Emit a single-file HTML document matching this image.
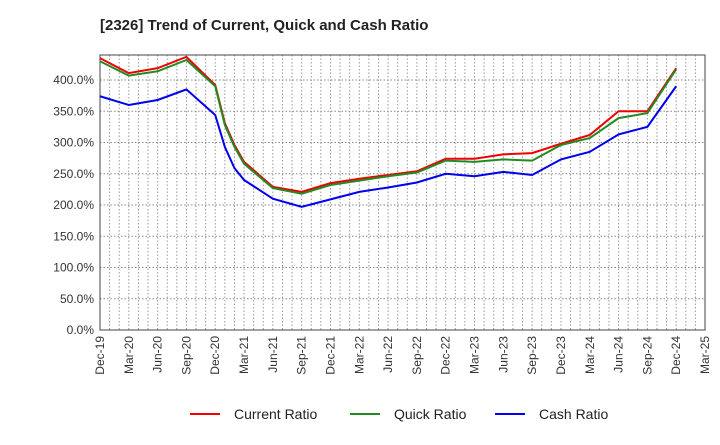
<!DOCTYPE html>
<html><head><meta charset="utf-8"><style>
body{margin:0;background:#fff;font-family:"Liberation Sans",sans-serif}
svg text{font-family:"Liberation Sans",sans-serif}
</style></head><body>
<svg id="chart" width="720" height="440">
<text x="100" y="30" font-size="15" font-weight="bold" fill="#222">[2326]  Trend of Current, Quick and Cash Ratio</text>
</svg>
<script>
const months=[0,3,6,9,12,13,14,15,18,21,24,27,30,33,36,39,42,45,48,51,54,57,60];
const currentRatio=[435,411,419,437,392,331,296,269,229,221,235,242,248,254,274,274,281,283,298,312,350,350,419];
const quickRatio=[430,407,414,432,390,328,293,266,227,218,232,239,246,252,271,269,273,271,296,307,339,347,417];
const cashRatio=[374,360,368,385,344,293,259,240,210,197,209,221,228,236,250,246,253,248,273,285,313,325,390];
const xTickLabels=["Dec-19","Mar-20","Jun-20","Sep-20","Dec-20","Mar-21","Jun-21","Sep-21","Dec-21","Mar-22","Jun-22","Sep-22","Dec-22","Mar-23","Jun-23","Sep-23","Dec-23","Mar-24","Jun-24","Sep-24","Dec-24","Mar-25"];
const yTicks=[0,50,100,150,200,250,300,350,400];
const NS="http://www.w3.org/2000/svg",svg=document.getElementById('chart');
const L=100,R=705,T=55,B=330;
const xs=m=>L+m*(R-L)/63, ys=v=>B-v*(B-T)/440;
function mk(t,a){const e=document.createElementNS(NS,t);for(const k in a)e.setAttribute(k,a[k]);svg.appendChild(e);return e;}
for(let m=1;m<63;m++){
const g=mk('line',{x1:xs(m),x2:xs(m),y1:T,y2:B,stroke:'#999','stroke-dasharray':'1.5,2','stroke-width':1});

}
yTicks.forEach(v=>{
if(v>0){const g=mk('line',{x1:L,x2:R,y1:ys(v),y2:ys(v),stroke:'#888','stroke-dasharray':'1.5,2','stroke-width':1});

}
const t=mk('text',{x:L-6,y:ys(v)+4,'font-size':12,'text-anchor':'end',fill:'#333'});
t.textContent=v.toFixed(1)+'%';

});
xTickLabels.forEach((s,i)=>{const x=xs(i*3),y=B+6;
const t=mk('text',{x:x+4,y:y,'font-size':12,'text-anchor':'end',fill:'#333',transform:`rotate(-90 ${x+4} ${y})`});
t.textContent=s;

});
const fr=mk('rect',{x:L,y:T,width:R-L,height:B-T,fill:'none',stroke:'#444','stroke-width':1});


[[currentRatio,'#ee0000','current-ratio-line'],[quickRatio,'#228b22','quick-ratio-line'],[cashRatio,'#0000ee','cash-ratio-line']].forEach(([d,c,n])=>{
const p=mk('polyline',{points:d.map((v,i)=>xs(months[i])+','+ys(v)).join(' '),fill:'none',stroke:c,'stroke-width':2});

});
[['Current Ratio','#ee0000',190],['Quick Ratio','#228b22',350],['Cash Ratio','#0000ee',495]].forEach(([s,c,x])=>{
const l=mk('line',{x1:x,x2:x+30,y1:414,y2:414,stroke:c,'stroke-width':2});


const t=mk('text',{x:x+44,y:419,'font-size':14,fill:'#222'});t.textContent=s;

});
</script>
</body></html>
